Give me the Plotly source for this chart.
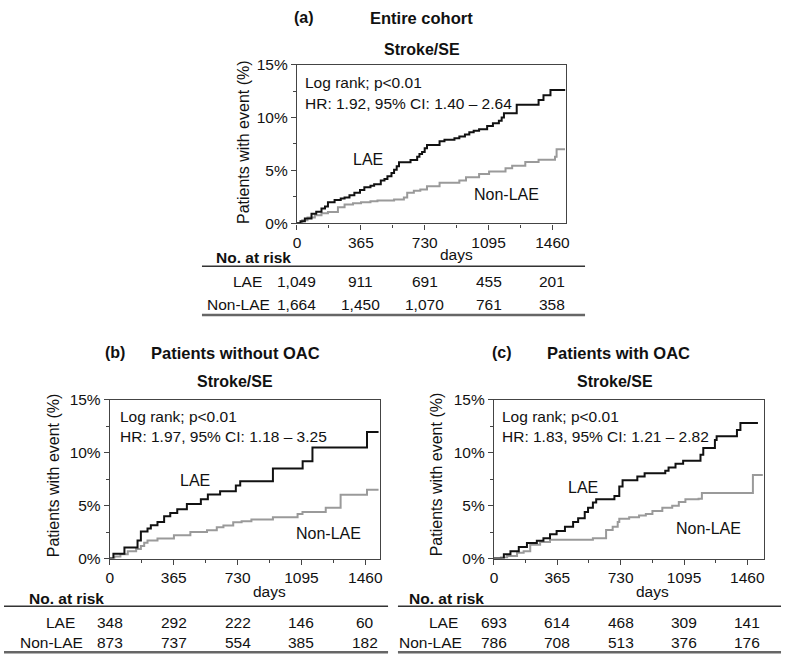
import plotly.graph_objects as go

W, H = 787, 665
FONT = "Liberation Sans, Arial, sans-serif"

# ---------------- data ----------------
x_ticks = [0, 365, 730, 1095, 1460]
y_ticks = [0, 5, 10, 15]

# Panel (a) Entire cohort
a_lae_days = [0, 20, 45, 83, 110, 140, 160, 177, 215, 250, 272, 300, 328, 360, 385, 420, 441, 479, 500,
              517, 540, 555, 570, 583, 649, 687, 700, 715, 730, 743, 815, 843, 900, 928, 960, 985, 1010,
              1041, 1087, 1120, 1154, 1170, 1183, 1256, 1381, 1409, 1449, 1533]
a_lae_pct = [0, 0.2, 0.45, 0.9, 1.1, 1.4, 1.6, 2.0, 2.2, 2.35, 2.45, 2.65, 2.9, 3.15, 3.4, 3.55, 3.7, 4.05, 4.2,
             4.45, 4.75, 5.06, 5.4, 5.77, 5.98, 6.3, 6.55, 6.75, 7.1, 7.4, 7.76, 7.9, 8.05, 8.2, 8.4, 8.6, 8.75,
             8.9, 9.2, 9.45, 9.7, 10.0, 10.4, 11.2, 11.65, 12.1, 12.6, 12.6]
a_non_days = [0, 30, 60, 102, 140, 177, 234, 272, 320, 366, 420, 460, 555, 611, 630, 668, 705, 743, 815,
              928, 966, 1041, 1098, 1192, 1230, 1305, 1381, 1475, 1484, 1532]
a_non_pct = [0, 0.3, 0.55, 0.77, 0.95, 1.07, 1.53, 1.78, 1.9, 2.0, 2.1, 2.15, 2.25, 2.45, 2.9, 3.07, 3.2, 3.5,
             3.83, 4.05, 4.35, 4.66, 4.9, 5.2, 5.45, 5.8, 6.0, 6.3, 7.0, 7.0]

# Panel (b) Patients without OAC
b_lae_days = [0, 20, 83, 158, 177, 215, 234, 272, 310, 345, 385, 440, 520, 560, 630, 720, 745, 932, 1102,
              1158, 1470, 1536]
b_lae_pct = [0, 0.45, 1.05, 1.7, 2.55, 2.85, 3.15, 3.45, 4.0, 4.3, 4.65, 5.15, 5.6, 6.05, 6.35, 6.9, 7.3,
             8.5, 9.2, 10.5, 11.96, 11.96]
b_non_days = [0, 26, 60, 102, 150, 177, 196, 215, 272, 366, 460, 555, 611, 649, 705, 753, 809, 932, 1073,
              1101, 1234, 1319, 1470, 1536]
b_non_pct = [0, 0.2, 0.4, 0.7, 0.9, 1.2, 1.5, 1.7, 1.9, 2.2, 2.5, 2.67, 2.97, 3.13, 3.43, 3.53, 3.68, 3.9,
             4.2, 4.4, 4.8, 6.04, 6.5, 6.5]

# Panel (c) Patients with OAC
c_lae_days = [0, 57, 95, 143, 190, 247, 285, 323, 361, 409, 456, 485, 523, 542, 570, 589, 694, 722, 741,
              826, 868, 987, 1006, 1046, 1090, 1190, 1206, 1273, 1283, 1400, 1420, 1521]
c_lae_pct = [0, 0.4, 0.7, 1.1, 1.47, 1.68, 1.92, 2.3, 2.6, 3.0, 3.45, 3.8, 4.4, 4.8, 5.3, 5.6, 5.9, 6.8, 7.4,
             7.75, 8.05, 8.3, 8.6, 8.95, 9.25, 9.8, 10.45, 11.2, 11.55, 12.15, 12.8, 12.8]
c_non_days = [0, 40, 76, 133, 171, 209, 266, 323, 570, 646, 684, 713, 722, 779, 836, 875, 913, 970, 1027,
              1065, 1103, 1179, 1198, 1492, 1549]
c_non_pct = [0, 0.1, 0.24, 0.55, 0.7, 1.3, 1.56, 1.77, 1.92, 2.7, 3.0, 3.45, 3.75, 3.9, 4.06, 4.2, 4.5, 4.8,
             5.0, 5.35, 5.6, 5.65, 6.2, 7.9, 7.9]

# Numbers at risk
a_risk_lae = ["1,049", "911", "691", "455", "201"]
a_risk_non = ["1,664", "1,450", "1,070", "761", "358"]
b_risk_lae = ["348", "292", "222", "146", "60"]
b_risk_non = ["873", "737", "554", "385", "182"]
c_risk_lae = ["693", "614", "468", "309", "141"]
c_risk_non = ["786", "708", "513", "376", "176"]

panel_tags = ["(a)", "(b)", "(c)"]
panel_titles = ["Entire cohort", "Patients without OAC", "Patients with OAC"]
endpoint = "Stroke/SE"
stats_line1 = ["Log rank; p<0.01", "Log rank; p<0.01", "Log rank; p<0.01"]
stats_line2 = ["HR: 1.92, 95% CI: 1.40 \u2013 2.64",
               "HR: 1.97, 95% CI: 1.18 \u2013 3.25",
               "HR: 1.83, 95% CI: 1.21 \u2013 2.82"]

# ---------------- helpers ----------------
def px(x):
    return x / W

def py(y):
    return 1 - y / H

fig = go.Figure()

panels = [
    dict(ax="", left=296, right=568, top=57, bottom=220, xmax=1539,
         lae=(a_lae_days, a_lae_pct), non=(a_non_days, a_non_pct),
         risk=(a_risk_lae, a_risk_non),
         tag=(303, 9), title=(422, 9), sub=(422, 42), stat_x=302, stat_y=(75, 97),
         lae_lbl=(368, 154), non_lbl=(508, 190), ytitle=(242, 137), days=(457, 252),
         nar=(212, 255), row_lae=(229, 280), row_non=(203, 303),
         line_x=(200, 587), line_top=264, line_bot=314),
    dict(ax="2", left=107, right=380, top=401, bottom=564, xmax=1545,
         lae=(b_lae_days, b_lae_pct), non=(b_non_days, b_non_pct),
         risk=(b_risk_lae, b_risk_non),
         tag=(112, 353), title=(234, 353), sub=(233, 382), stat_x=115, stat_y=(418, 439),
         lae_lbl=(193, 484), non_lbl=(328, 538), ytitle=(50, 478), days=(268, 598),
         nar=(23, 605), row_lae=(40, 630), row_non=(14, 650),
         line_x=(0, 388), line_top=613, line_bot=660),
    dict(ax="3", left=495, right=768, top=401, bottom=564, xmax=1557,
         lae=(c_lae_days, c_lae_pct), non=(c_non_days, c_non_pct),
         risk=(c_risk_lae, c_risk_non),
         tag=(503, 353), title=(621, 353), sub=(617, 382), stat_x=501, stat_y=(418, 439),
         lae_lbl=(585, 491), non_lbl=(712, 533), ytitle=(437, 478), days=(655, 598),
         nar=(407, 605), row_lae=(427, 630), row_non=(397, 650),
         line_x=(398, 785), line_top=613, line_bot=660),
]

annotations = []
shapes = []

for i, p in enumerate(panels):
    xa = "x" + p["ax"]
    ya = "y" + p["ax"]
    fig.add_trace(go.Scatter(x=p["non"][0], y=p["non"][1], mode="lines", line_shape="hv",
                             line=dict(color="#9a9a9a", width=2), xaxis=xa, yaxis=ya,
                             showlegend=False, hoverinfo="skip"))
    fig.add_trace(go.Scatter(x=p["lae"][0], y=p["lae"][1], mode="lines", line_shape="hv",
                             line=dict(color="#111111", width=2), xaxis=xa, yaxis=ya,
                             showlegend=False, hoverinfo="skip"))

    axis_common = dict(showline=True, linecolor="#444444", linewidth=1.3, mirror=True,
                       ticks="outside", ticklen=5, tickcolor="#444444", tickwidth=1.2,
                       showgrid=False, zeroline=False,
                       tickfont=dict(family=FONT, size=15.5, color="#111111"))
    xkey = "xaxis" + p["ax"]
    ykey = "yaxis" + p["ax"]
    fig.update_layout(**{
        xkey: dict(axis_common, domain=[px(p["left"]), px(p["right"])], range=[0, p["xmax"]],
                   tickmode="array", tickvals=x_ticks, ticktext=[str(v) for v in x_ticks],
                   anchor=ya,
                   minor=dict(tickmode="array", tickvals=[182.5, 547.5, 912.5, 1277.5],
                              ticks="outside", ticklen=3, tickcolor="#444444")),
        ykey: dict(axis_common, domain=[py(p["bottom"]), py(p["top"])], range=[0, 15],
                   tickmode="array", tickvals=y_ticks, ticktext=[f"{v}%" for v in y_ticks],
                   anchor=xa,
                   minor=dict(tickmode="array", tickvals=[2.5, 7.5, 12.5],
                              ticks="outside", ticklen=3, tickcolor="#444444")),
    })

    def ann(text, x, y, size=15, bold=False, xanchor="center", angle=0, color="#111111"):
        annotations.append(dict(text=f"<b>{text}</b>" if bold else text, x=px(x), y=py(y),
                                xref="paper", yref="paper", xanchor=xanchor, yanchor="middle",
                                showarrow=False, textangle=angle,
                                font=dict(family=FONT, size=size, color=color)))

    ann(panel_tags[i], *p["tag"], size=16, bold=True)
    ann(panel_titles[i], *p["title"], size=16.5, bold=True)
    ann(endpoint, *p["sub"], size=16, bold=True)
    ann(stats_line1[i], p["stat_x"], p["stat_y"][0], size=15.5, xanchor="left")
    ann(stats_line2[i], p["stat_x"], p["stat_y"][1], size=15.5, xanchor="left")
    ann("LAE", *p["lae_lbl"], size=16)
    ann("Non-LAE", *p["non_lbl"], size=16)
    ann("Patients with event (%)", *p["ytitle"], size=16, angle=-90)
    ann("days", *p["days"], size=15.5)
    ann("No. at risk", *p["nar"], size=15.5, bold=True, xanchor="left")
    ann("LAE", *p["row_lae"], size=15.5, xanchor="left")
    ann("Non-LAE", *p["row_non"], size=15.5, xanchor="left")

    for d, v1, v2 in zip(x_ticks, p["risk"][0], p["risk"][1]):
        for val, yy in ((v1, p["row_lae"][1]), (v2, p["row_non"][1])):
            annotations.append(dict(text=val, x=d, y=py(yy), xref=xa, yref="paper",
                                    xanchor="center", yanchor="middle", showarrow=False,
                                    font=dict(family=FONT, size=15.5, color="#111111")))

    shapes.append(dict(type="line", xref="paper", yref="paper",
                       x0=px(p["line_x"][0]), x1=px(p["line_x"][1]),
                       y0=py(p["line_top"]), y1=py(p["line_top"]),
                       line=dict(color="#333333", width=1.5)))
    shapes.append(dict(type="line", xref="paper", yref="paper",
                       x0=px(p["line_x"][0]), x1=px(p["line_x"][1]),
                       y0=py(p["line_bot"]), y1=py(p["line_bot"]),
                       line=dict(color="#666666", width=2.5)))

fig.update_layout(width=W, height=H, margin=dict(l=0, r=0, t=0, b=0),
                  paper_bgcolor="white", plot_bgcolor="white",
                  annotations=annotations, shapes=shapes,
                  font=dict(family=FONT, color="#111111"))

fig.write_html("out.html", config={"displayModeBar": False},
               post_script="document.body.style.margin='0';document.body.style.overflow='hidden';")
